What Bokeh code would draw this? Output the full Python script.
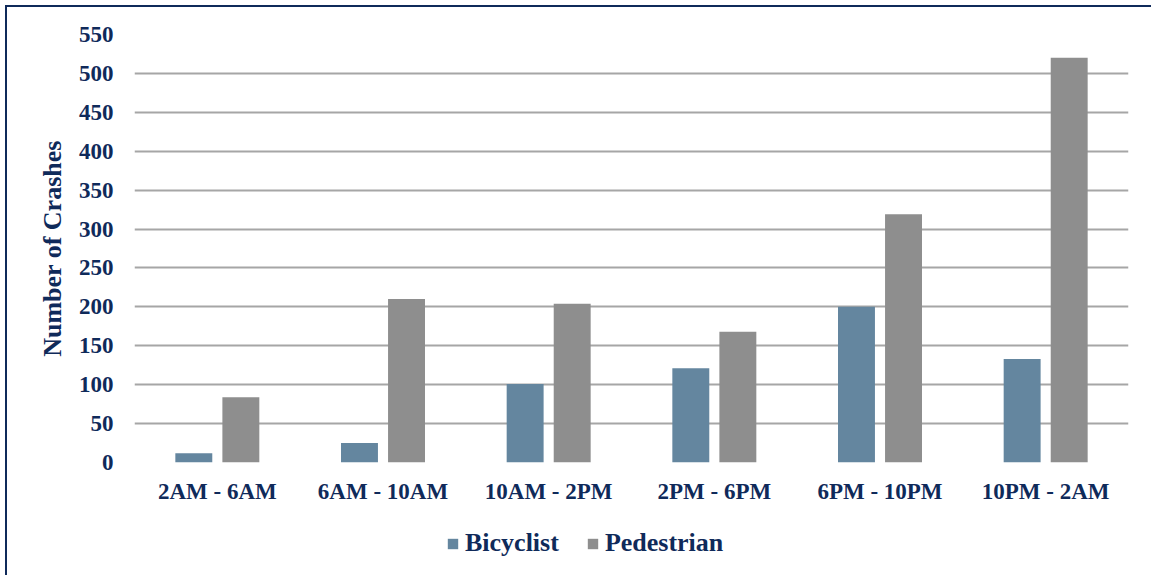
from bokeh.plotting import figure
from bokeh.layouts import column
from bokeh.models import ColumnDataSource, FactorRange, Range1d, Legend, LegendItem
from bokeh.transform import dodge
from bokeh.embed import file_html
from bokeh.resources import INLINE

categories = ["2AM - 6AM", "6AM - 10AM", "10AM - 2PM", "2PM - 6PM", "6PM - 10PM", "10PM - 2AM"]
bicyclist = [12, 25, 101, 121, 200, 133]
pedestrian = [84, 210, 204, 168, 319, 520]
series_names = ["Bicyclist", "Pedestrian"]
y_ticks = list(range(0, 551, 50))

NAVY = "#0f2a5a"
BIKE = "#64869f"
PED = "#8e8e8e"
GRID = "#a6a6a6"
FONT = "Liberation Serif"

src = ColumnDataSource(dict(cat=categories, bike=bicyclist, ped=pedestrian))

p = figure(x_range=FactorRange(*categories), y_range=Range1d(0, 550),
           width=1146, height=510, output_backend="svg", toolbar_location=None,
           min_border_left=127, min_border_right=25, min_border_top=27, min_border_bottom=55)
p.margin = (5, 0, 0, 5)
p.styles = {"border-left": "2px solid " + NAVY, "border-top": "2px solid " + NAVY}
p.outline_line_color = None
p.x_range.range_padding = 0

r1 = p.vbar(x=dodge("cat", -0.142, range=p.x_range), top="bike", width=0.223, source=src,
            fill_color=BIKE, line_color=None)
r2 = p.vbar(x=dodge("cat", 0.142, range=p.x_range), top="ped", width=0.223, source=src,
            fill_color=PED, line_color=None)

p.yaxis.ticker = y_ticks
p.ygrid.grid_line_color = GRID
p.ygrid.grid_line_width = 2
p.xgrid.grid_line_color = None

for ax in (p.xaxis[0], p.yaxis[0]):
    ax.axis_line_color = None
    ax.major_tick_line_color = None
    ax.minor_tick_line_color = None
    ax.major_tick_out = 0
    ax.major_tick_in = 0
    ax.major_label_text_font = FONT
    ax.major_label_text_font_style = "bold"
    ax.major_label_text_font_size = "23px"
    ax.major_label_text_color = NAVY

p.yaxis.major_label_standoff = 21
p.xaxis.major_label_standoff = 16
p.yaxis.axis_label = "Number of Crashes"
p.yaxis.axis_label_text_font = FONT
p.yaxis.axis_label_text_font_style = "bold"
p.yaxis.axis_label_text_font_size = "26px"
p.yaxis.axis_label_text_color = NAVY
p.yaxis.axis_label_standoff = 9

# legend strip below the chart (hidden proxy renderers carry the legend colours)
p2 = figure(x_range=p.x_range, y_range=Range1d(0, 550), width=1146, height=60,
            output_backend="svg", toolbar_location=None,
            min_border_left=0, min_border_right=0, min_border_top=0, min_border_bottom=0)
p2.margin = (0, 0, 0, 5)
p2.styles = {"border-left": "2px solid " + NAVY}
p2.outline_line_color = None
p2.axis.visible = False
p2.grid.visible = False
lg1 = p2.vbar(x=dodge("cat", -0.142, range=p.x_range), top="bike", width=0.223, source=src,
              fill_color=BIKE, line_color=None, visible=False)
lg2 = p2.vbar(x=dodge("cat", 0.142, range=p.x_range), top="ped", width=0.223, source=src,
              fill_color=PED, line_color=None, visible=False)

legend = Legend(items=[LegendItem(label=series_names[0], renderers=[lg1]),
                       LegendItem(label=series_names[1], renderers=[lg2])],
                orientation="horizontal", location=(312, 17))
legend.label_text_font = FONT
legend.label_text_font_style = "bold"
legend.label_text_font_size = "26px"
legend.label_text_color = NAVY
legend.glyph_width = 13
legend.glyph_height = 13
legend.label_standoff = 6
legend.spacing = 27
legend.padding = 0
legend.margin = 0
legend.border_line_color = None
legend.background_fill_alpha = 0
legend.inactive_fill_alpha = 0
p2.add_layout(legend, "center")

layout = column(p, p2, spacing=0)
open("out.html", "w").write(file_html(layout, INLINE))
